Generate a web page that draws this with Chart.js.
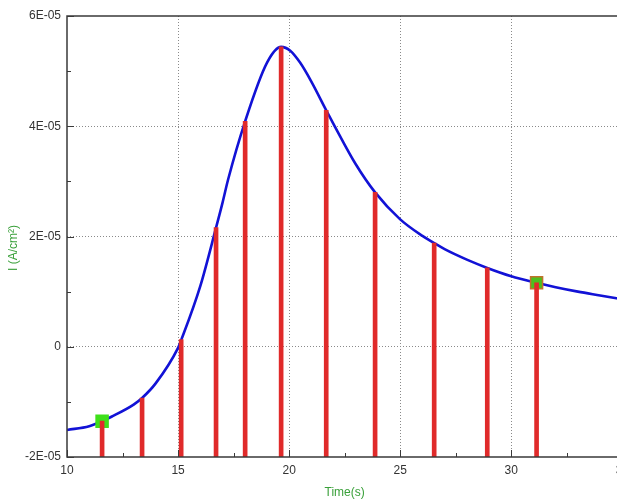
<!DOCTYPE html>
<html>
<head>
<meta charset="utf-8">
<script src="https://cdn.jsdelivr.net/npm/chart.js@4"></script>
<style>
html,body{margin:0;padding:0;overflow:hidden;background:#fff;}
#wrap{width:635px;height:501px;}
</style>
</head>
<body>
<div id="wrap"><canvas id="c" width="635" height="501"></canvas></div>
<script>
// Curve (time in s, current in A/cm²)
const curveTime = [10, 11, 11.58, 12, 13, 13.38, 14, 15, 15.14, 16, 16.71, 17, 17.25, 18.02, 19, 19.64, 20.05, 20.5, 21, 21.67, 22, 23, 23.87, 25, 26, 26.53, 27, 28, 28.92, 30, 31.14, 32, 33, 34, 35];
const curveCurrent = [-1.51e-5, -1.44e-5, -1.35e-5, -1.27e-5, -1.05e-5, -0.93e-5, -0.66e-5, -0.02e-5, 0.12e-5, 1.1e-5, 2.16e-5, 2.61e-5, 3.03e-5, 4.09e-5, 5.15e-5, 5.44e-5, 5.37e-5, 5.15e-5, 4.81e-5, 4.29e-5, 4.04e-5, 3.31e-5, 2.8e-5, 2.31e-5, 2.01e-5, 1.88e-5, 1.77e-5, 1.58e-5, 1.43e-5, 1.28e-5, 1.16e-5, 1.08e-5, 1.0e-5, 0.93e-5, 0.86e-5];
// Red stems
const stemTime = [11.58, 13.38, 15.14, 16.71, 18.02, 19.64, 21.67, 23.87, 26.53, 28.92, 31.14];
const stemCurrent = [-1.35e-5, -0.93e-5, 0.13e-5, 2.16e-5, 4.09e-5, 5.44e-5, 4.29e-5, 2.8e-5, 1.88e-5, 1.43e-5, 1.16e-5];
const stemBase = -2e-5;
// Square markers
const markerTime = [11.58, 31.14];
const markerCurrent = [-1.35e-5, 1.16e-5];
// Axes
const xMin = 10, xMax = 35, xMajor = 5;
const yMin = -2e-5, yMax = 6e-5, yMajor = 2e-5;
const xTitle = 'Time(s)';
const yTitle = 'I (A/cm²)';

Chart.defaults.font.family = "'Liberation Sans', Arial, sans-serif";
Chart.defaults.font.size = 12;
Chart.defaults.color = '#333';

const isMajor = (v, step) => Math.abs(v / step - Math.round(v / step)) < 1e-6;

const framePlugin = {
  id: 'frame',
  afterDatasetsDraw(chart) {
    const {ctx, chartArea: a, scales: {x, y}} = chart;
    ctx.save();
    ctx.strokeStyle = '#3a3a3a';
    ctx.lineWidth = 1;
    // tick marks (inward)
    ctx.beginPath();
    x.ticks.forEach(t => {
      const p = Math.round(x.getPixelForValue(t.value)) + 0.5;
      const len = isMajor(t.value, xMajor) ? 7 : 4;
      ctx.moveTo(p, a.bottom); ctx.lineTo(p, a.bottom - len);
    });
    y.ticks.forEach(t => {
      const p = Math.round(y.getPixelForValue(t.value)) + 0.5;
      const len = isMajor(t.value, yMajor) ? 7 : 4;
      ctx.moveTo(a.left, p); ctx.lineTo(a.left + len, p);
    });
    ctx.stroke();
    // frame
    ctx.lineWidth = 1.5;
    ctx.beginPath();
    ctx.moveTo(a.right + 10, a.top); ctx.lineTo(a.left, a.top);
    ctx.lineTo(a.left, a.bottom); ctx.lineTo(a.right + 10, a.bottom);
    ctx.stroke();
    // y title
    ctx.translate(14, 248);
    ctx.rotate(-Math.PI / 2);
    ctx.fillStyle = '#3aa03a';
    ctx.font = "12px 'Liberation Sans', Arial, sans-serif";
    ctx.textAlign = 'center';
    ctx.textBaseline = 'middle';
    ctx.fillText(yTitle, 0, 0);
    ctx.restore();
  }
};

new Chart(document.getElementById('c'), {
  type: 'bar',
  data: {
    datasets: [
      {
        type: 'bar',
        data: stemTime.map((t, i) => ({x: t, y: [stemBase, stemCurrent[i]]})),
        backgroundColor: '#e02a2a',
        borderWidth: 0,
        barThickness: 4,
        order: 0
      },
      {
        type: 'scatter',
        data: markerTime.map((t, i) => ({x: t, y: markerCurrent[i]})),
        pointStyle: 'rect',
        pointRadius: 8.5,
        backgroundColor: ['#3ee01a', '#4cbf1e'],
        borderColor: ['#3ee01a', '#c0722c'],
        borderWidth: 1.5,
        order: 1
      },
      {
        type: 'line',
        data: curveTime.map((t, i) => ({x: t, y: curveCurrent[i]})),
        borderColor: '#1212d6',
        borderWidth: 2.6,
        pointRadius: 0,
        fill: false,
        cubicInterpolationMode: 'monotone',
        order: 2
      }
    ]
  },
  options: {
    responsive: false,
    animation: false,
    events: [],
    layout: {padding: {left: 0, right: 8, top: 16, bottom: 0}},
    plugins: {legend: {display: false}, tooltip: {enabled: false}},
    scales: {
      x: {
        type: 'linear',
        min: xMin, max: xMax,
        offset: false,
        grid: {
          offset: false,
          drawTicks: false,
          color: c => (c.tick && isMajor(c.tick.value, xMajor) && c.tick.value > xMin) ? '#8a8a8a' : 'rgba(0,0,0,0)',
          lineWidth: 1
        },
        border: {display: false, dash: [1, 2]},
        ticks: {
          stepSize: xMajor / 2,
          padding: 6,
          maxRotation: 0,
          autoSkip: false,
          color: '#333',
          callback: v => isMajor(v, xMajor) ? String(Math.round(v)) : ''
        },
        title: {
          display: true,
          text: xTitle,
          color: '#3aa03a',
          font: {size: 12},
          padding: {top: 0, bottom: 1}
        },
        afterFit: s => { s.height = 44; }
      },
      y: {
        type: 'linear',
        min: yMin, max: yMax,
        grid: {
          drawTicks: false,
          color: c => (c.tick && isMajor(c.tick.value, yMajor) && c.tick.value > yMin + 1e-9 && c.tick.value < yMax - 1e-9) ? '#8a8a8a' : 'rgba(0,0,0,0)',
          lineWidth: 1
        },
        border: {display: false, dash: [1, 2]},
        ticks: {
          stepSize: yMajor / 2,
          padding: 6,
          autoSkip: false,
          color: '#333',
          callback: v => {
            if (!isMajor(v, yMajor)) return '';
            const k = Math.round(v / 1e-5);
            return k === 0 ? '0' : k + 'E-05';
          }
        },
        afterFit: s => { s.width = 67; }
      }
    }
  },
  plugins: [framePlugin]
});
</script>
</body>
</html>
